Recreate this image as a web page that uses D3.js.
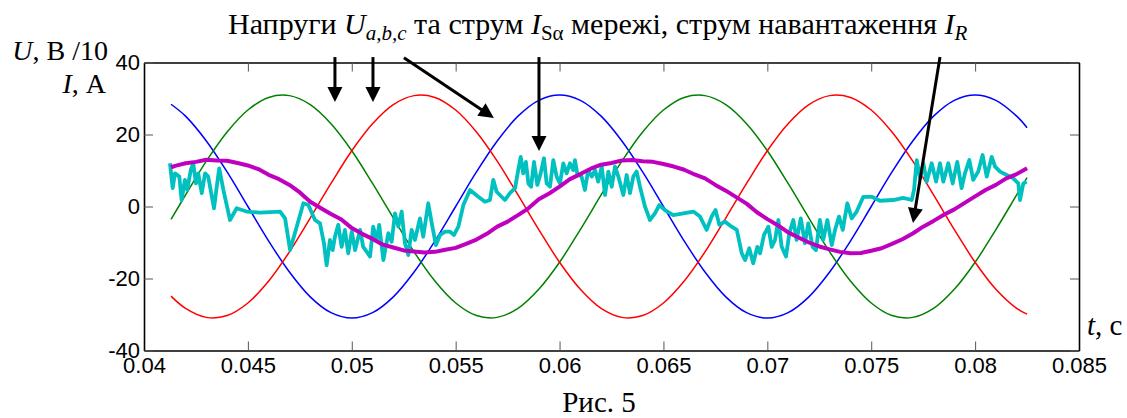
<!DOCTYPE html>
<meta charset="utf-8">
<head>
    <style>
        body { margin: 0; background: #ffffff; }
        .axis text { font-family: "Liberation Sans", Arial, sans-serif; font-size: 22px; fill: #000; }
        .axis .domain { stroke: #000; stroke-width: 1.6; }
        .axis .tick line { stroke: #555; stroke-width: 1; }
        .lbl { font-family: "Liberation Serif", "Times New Roman", serif; fill: #000; }
        .it { font-style: italic; }
    </style>
    <script src="https://cdnjs.cloudflare.com/ajax/libs/d3/7.8.5/d3.min.js"></script>
</head>
<body>
<svg id="chart"></svg>
<script>

    var width = 1127, height = 418;
    var plot = {left: 144, right: 1079, top: 62.5, bottom: 350.5};

    // осі
    var xTicks = [0.04, 0.045, 0.05, 0.055, 0.06, 0.065, 0.07, 0.075, 0.08, 0.085];
    var xTickLabels = ["0.04", "0.045", "0.05", "0.055", "0.06", "0.065", "0.07", "0.075", "0.08", "0.085"];
    var yTicks = [-40, -20, 0, 20, 40];
    var yTickLabels = ["-40", "-20", "0", "20", "40"];

    // напруги мережі (мс, В/10)
    var uT = [41.3, 42, 43, 44, 45, 46, 47, 48, 49, 50, 51, 52, 53, 54, 55, 56, 57, 58, 59, 60, 61,
        62, 63, 64, 65, 66, 67, 68, 69, 70, 71, 72, 73, 74, 75, 76, 77, 78, 79, 80, 81, 82, 82.5];
    var uA = [28.4, 25.1, 18.2, 9.6, 0, -9.6, -18.2, -25.1, -29.5, -31, -29.5, -25.1, -18.2, -9.6, 0, 9.6, 18.2, 25.1, 29.5, 31, 29.5,
        25.1, 18.2, 9.6, 0, -9.6, -18.2, -25.1, -29.5, -31, -29.5, -25.1, -18.2, -9.6, 0, 9.6, 18.2, 25.1, 29.5, 31, 29.5, 25.1, 21.9];
    var uB = [-24.9, -28.3, -30.8, -30.3, -26.8, -20.7, -12.6, -3.2, 6.4, 15.5, 23.0, 28.3, 30.8, 30.3, 26.8, 20.7, 12.6, 3.2, -6.4, -15.5, -23.0,
        -28.3, -30.8, -30.3, -26.8, -20.7, -12.6, -3.2, 6.4, 15.5, 23.0, 28.3, 30.8, 30.3, 26.8, 20.7, 12.6, 3.2, -6.4, -15.5, -23.0, -28.3, -29.9];
    var uC = [-3.6, 3.2, 12.6, 20.7, 26.8, 30.3, 30.8, 28.3, 23.0, 15.5, 6.4, -3.2, -12.6, -20.7, -26.8, -30.3, -30.8, -28.3, -23.0, -15.5, -6.4,
        3.2, 12.6, 20.7, 26.8, 30.3, 30.8, 28.3, 23.0, 15.5, 6.4, -3.2, -12.6, -20.7, -26.8, -30.3, -30.8, -28.3, -23.0, -15.5, -6.4, 3.2, 8.0];

    // струм навантаження I_R
    var irT = [41.3, 41.5, 42, 42.5, 43, 43.5, 44, 44.5, 45, 45.5, 46, 46.5, 47, 47.5, 48, 48.5, 49, 49.5, 50, 50.5,
        51, 51.5, 52, 52.5, 53, 53.5, 54, 54.5, 55, 55.5, 56, 56.5, 57, 57.5, 58, 58.5, 59, 59.5, 60, 60.5,
        61, 61.5, 62, 62.5, 63, 63.5, 64, 64.5, 65, 65.5, 66, 66.5, 67, 67.5, 68, 68.5, 69, 69.5, 70, 70.5,
        71, 71.5, 72, 72.5, 73, 73.5, 74, 74.5, 75, 75.5, 76, 76.5, 77, 77.5, 78, 78.5, 79, 79.5, 80, 80.5,
        81, 81.5, 82, 82.5];
    var irV = [10.9, 11.3, 12.0, 12.4, 13.0, 12.8, 12.7, 12.1, 11.4, 10.4, 8.8, 7.6, 6.0, 3.9, 1.3, -0.4, -2.1, -3.6, -6.0, -7.6,
        -9.0, -10.6, -11.4, -12.2, -12.5, -12.8, -12.6, -12.0, -11.5, -10.4, -9.2, -7.6, -5.6, -4.2, -2.4, -0.5, 2.0, 3.6, 5.5, 7.6,
        9.0, 10.5, 11.6, 12.1, 12.8, 12.9, 12.6, 12.4, 11.8, 11.1, 10.2, 8.9, 7.8, 6.0, 4.4, 2.6, 0.8, -1.6, -3.5, -5.2,
        -7.2, -8.6, -10.0, -11.1, -11.9, -12.6, -13.0, -12.9, -12.3, -11.6, -10.4, -9.1, -7.5, -5.6, -4.0, -2.3, -0.8, 1.0, 2.8, 4.6,
        6.0, 7.8, 9.0, 10.6];

    // струм мережі I_Sα
    var isT = [41.25, 41.38, 41.49, 41.70, 41.81, 41.97, 42.08, 42.25, 42.37, 42.50, 42.61, 42.78, 42.94, 43.09, 43.37, 43.50, 43.62, 43.82,
        44.14, 44.46, 44.94, 45.58, 46.55, 46.79, 47.03, 47.35, 47.67, 47.91, 48.23, 48.47, 48.66, 48.79, 48.95, 49.08, 49.19,
        49.35, 49.51, 49.67, 49.83, 50.00, 50.16, 50.40, 50.55, 50.88, 51.03, 51.20, 51.32, 51.52, 51.76, 51.92, 52.08, 52.24,
        52.40, 52.56, 52.72, 52.88, 53.04, 53.28, 53.44, 53.68, 53.85, 54.05, 54.25, 54.49, 54.73, 54.92, 55.13, 55.37, 55.69,
        56.09, 56.41, 56.65, 56.81, 56.97, 57.37, 57.61, 57.86, 58.01, 58.13, 58.25, 58.38, 58.50, 58.63, 58.77, 58.93, 59.09,
        59.25, 59.38, 59.54, 59.70, 59.86, 60.02, 60.18, 60.34, 60.50, 60.66, 60.74, 60.85, 61.06, 61.22, 61.38, 61.55, 61.71,
        61.86, 62.03, 62.19, 62.35, 62.51, 62.67, 62.83, 63.07, 63.23, 63.39, 63.55, 63.71, 63.87, 64.11, 64.35, 64.59, 64.80,
        65.07, 65.47, 65.96, 66.44, 66.76, 67.08, 67.32, 67.51, 67.69, 67.96, 68.28, 68.53, 68.77, 68.93, 69.13, 69.32, 69.52,
        69.65, 69.84, 70.05, 70.21, 70.37, 70.53, 70.69, 70.90, 71.06, 71.25, 71.41, 71.61, 71.81, 71.97, 72.18, 72.34, 72.53,
        72.69, 72.89, 73.10, 73.26, 73.45, 73.63, 73.85, 74.06, 74.30, 74.62, 75.02, 75.42, 76.06, 76.54, 76.95, 77.06, 77.19,
        77.35, 77.51, 77.67, 77.91, 78.12, 78.31, 78.47, 78.71, 78.92, 79.14, 79.35, 79.51, 79.72, 79.91, 80.15, 80.36, 80.56,
        80.80, 80.96, 81.20, 81.52, 81.84, 82.08, 82.16, 82.32, 82.48];
    var isV = [12.0, 5.1, 9.2, 8.3, 1.8, 7.4, 4.6, 10.1, 12.0, 6.4, 9.2, 3.7, 9.2, 8.3, -0.5, 5.5, 10.6, 4.6,
        -3.75, -0.5, -1.4, -1.7, -1.4, -3.3, -12.1, -5.6, 0.9, 0.4, -3.75, -4.7, -10.2, -16.3, -9.3, -12.1, -8.4,
        -5.1, -11.2, -6.5, -13.0, -7.0, -12.1, -6.5, -11.2, -13.9, -5.6, -9.3, -5.1, -14.9, -7.4, -9.8, -1.9, -5.6,
        -1.4, -10.2, -13.5, -6.5, -9.3, -3.3, -8.4, 0.9, -4.7, -10.7, -7.9, -7.0, -7.0, -7.9, -5.6, 0.4, 4.6,
        2.7, 1.3, 1.8, 7.4, 4.1, 1.8, 3.7, 5.1, 10.1, 13.8, 9.2, 12.4, 6.4, 5.5, 12.4, 6.0, 9.2,
        13.4, 6.4, 5.5, 12.9, 8.3, 6.4, 12.0, 9.2, 12.0, 10.1, 12.9, 9.2, 8.3, 4.6, 10.1, 8.3, 10.1,
        6.9, 11.1, 3.2, 9.7, 5.5, 11.1, 8.3, 3.2, 8.75, 3.7, 8.3, 9.7, 5.5, 0.0, -3.75, -1.9, 0.4,
        -1.0, -2.4, -1.9, -1.4, -2.8, -6.5, -2.8, -1.0, -5.1, -4.2, -5.6, -6.5, -13.0, -14.9, -11.6, -15.8, -11.2,
        -13.0, -7.9, -5.6, -11.2, -9.3, -3.75, -11.2, -13.9, -7.4, -3.75, -9.3, -3.3, -10.2, -4.7, -11.2, -12.1, -3.75,
        -9.3, -3.75, -10.7, -6.5, -2.8, -6.5, 0.9, -3.3, -1.4, 2.7, 2.7, 1.6, 1.8, 2.4, 1.8, 4.6, 12.9,
        7.8, 12.0, 6.9, 12.0, 6.9, 12.0, 6.9, 12.0, 6.4, 12.4, 5.1, 9.2, 12.9, 7.4, 9.7, 14.3, 8.3,
        13.8, 11.1, 9.7, 8.75, 7.8, 6.4, 1.8, 6.4, 6.9];

    // стрілки-підписи (с, од.)
    var arrowX1 = [0.04919, 0.05102, 0.05251, 0.05901, 0.07831];
    var arrowY1 = [41.5, 41.5, 41.3, 41.5, 41.5];
    var arrowX2 = [0.04919, 0.05102, 0.05684, 0.05901, 0.07701];
    var arrowY2 = [29.0, 29.0, 24.6, 15.4, -4.6];

    var svg = d3.select("#chart")
        .attr("width", width)
        .attr("height", height)
        .style("background", "#fff");

    var x = d3.scaleLinear().domain([0.04, 0.085]).range([plot.left, plot.right]);
    var y = d3.scaleLinear().domain([-40, 40]).range([plot.bottom, plot.top]);

    var line = d3.line()
        .x(function (d) { return x(d[0] / 1000); })
        .y(function (d) { return y(d[1]); });

    function pairs(t, v) {
        return t.map(function (d, i) { return [d, v[i]]; });
    }

    var curves = svg.append("g").attr("class", "curves");

    var phases = [[uA, "#0000ff"], [uC, "#008000"], [uB, "#ff0000"]];
    phases.forEach(function (p) {
        curves.append("path")
            .datum(pairs(uT, p[0]))
            .attr("fill", "none")
            .attr("stroke", p[1])
            .attr("stroke-width", 1.5)
            .attr("d", line.curve(d3.curveCatmullRom));
    });

    curves.append("path")
        .datum(pairs(isT, isV))
        .attr("fill", "none")
        .attr("stroke", "#00c0c0")
        .attr("stroke-width", 3.8)
        .attr("stroke-linejoin", "round")
        .attr("d", line.curve(d3.curveLinear));

    curves.append("path")
        .datum(pairs(irT, irV))
        .attr("fill", "none")
        .attr("stroke", "#bf00bf")
        .attr("stroke-width", 4)
        .attr("stroke-linejoin", "round")
        .attr("d", line.curve(d3.curveLinear));

    // рамка з рисками всередину
    var fmtX = function (d) { return xTickLabels[xTicks.indexOf(d)]; };
    var fmtY = function (d) { return yTickLabels[yTicks.indexOf(d)]; };

    svg.append("g").attr("class", "axis")
        .attr("transform", "translate(0," + plot.bottom + ")")
        .call(d3.axisBottom(x).tickValues(xTicks).tickFormat(fmtX).tickSizeInner(-9).tickSizeOuter(0).tickPadding(7));
    svg.append("g").attr("class", "axis")
        .attr("transform", "translate(0," + plot.top + ")")
        .call(d3.axisTop(x).tickValues(xTicks).tickFormat("").tickSizeInner(-9).tickSizeOuter(0));
    svg.append("g").attr("class", "axis")
        .attr("transform", "translate(" + plot.left + ",0)")
        .call(d3.axisLeft(y).tickValues(yTicks).tickFormat(fmtY).tickSizeInner(-9).tickSizeOuter(0).tickPadding(4));
    svg.append("g").attr("class", "axis")
        .attr("transform", "translate(" + plot.right + ",0)")
        .call(d3.axisRight(y).tickValues(yTicks).tickFormat("").tickSizeInner(-9).tickSizeOuter(0));

    // стрілки
    var arrows = svg.append("g").attr("class", "arrows");
    arrowX1.forEach(function (d, i) {
        var x1 = x(d), y1 = y(arrowY1[i]), x2 = x(arrowX2[i]), y2 = y(arrowY2[i]);
        var len = Math.hypot(x2 - x1, y2 - y1), ux = (x2 - x1) / len, uy = (y2 - y1) / len;
        var hl = 15, hw = 7.5;
        arrows.append("line")
            .attr("x1", x1).attr("y1", y1)
            .attr("x2", x2 - ux * (hl - 2)).attr("y2", y2 - uy * (hl - 2))
            .attr("stroke", "#000").attr("stroke-width", 3);
        var bx = x2 - ux * hl, by = y2 - uy * hl;
        arrows.append("polygon")
            .attr("points", [[x2, y2], [bx - uy * hw, by + ux * hw], [bx + uy * hw, by - ux * hw]].join(" "))
            .attr("fill", "#000");
    });

    // підписи
    var title = svg.append("text").attr("class", "lbl")
        .attr("x", 228).attr("y", 34).style("font-size", "30px");
    title.append("tspan").text("Напруги ");
    title.append("tspan").attr("class", "it").text("U");
    title.append("tspan").attr("class", "it").attr("dy", 6).style("font-size", "21px").text("a,b,c");
    title.append("tspan").attr("dy", -6).text(" та струм ");
    title.append("tspan").attr("class", "it").text("I");
    title.append("tspan").attr("dy", 6).style("font-size", "21px").text("Sα");
    title.append("tspan").attr("dy", -6).text(" мережі, струм навантаження ");
    title.append("tspan").attr("class", "it").text("I");
    title.append("tspan").attr("class", "it").attr("dy", 6).style("font-size", "21px").text("R");

    var yl1 = svg.append("text").attr("class", "lbl")
        .attr("x", 108).attr("y", 60).attr("text-anchor", "end").style("font-size", "28px");
    yl1.append("tspan").attr("class", "it").text("U");
    yl1.append("tspan").text(", В /10");

    var yl2 = svg.append("text").attr("class", "lbl")
        .attr("x", 106).attr("y", 93).attr("text-anchor", "end").style("font-size", "28px");
    yl2.append("tspan").attr("class", "it").text("I");
    yl2.append("tspan").text(", А");

    var xl = svg.append("text").attr("class", "lbl")
        .attr("x", 1087).attr("y", 335).style("font-size", "29px");
    xl.append("tspan").attr("class", "it").text("t");
    xl.append("tspan").text(", с");

    svg.append("text").attr("class", "lbl")
        .attr("x", 599).attr("y", 412).attr("text-anchor", "middle").style("font-size", "29px")
        .text("Рис. 5");

</script>
</body>
</html>
